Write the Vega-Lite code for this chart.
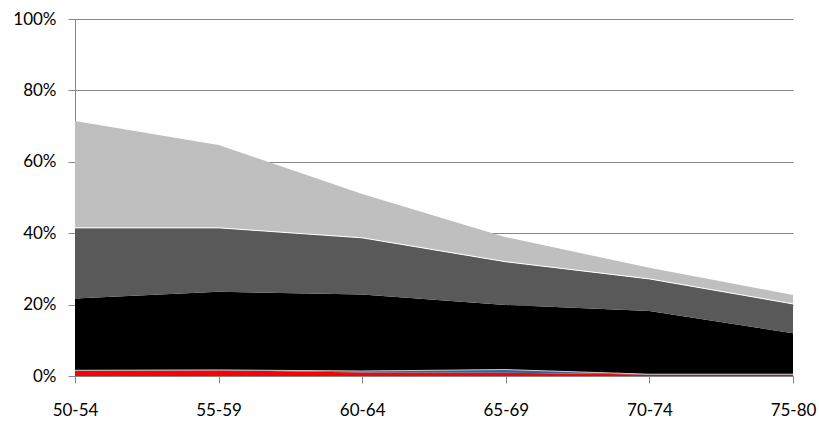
{
  "$schema": "https://vega.github.io/schema/vega-lite/v6.json",
  "width": 718,
  "height": 357,
  "autosize": {"type": "none"},
  "padding": {"left": 75, "top": 19, "right": 26, "bottom": 48},
  "background": "white",
  "config": {"view": {"stroke": null}, "font": "Lato"},
  "data": {"values": [
    {"age": "50-54", "series": "S1", "v": 0.015},
    {"age": "55-59", "series": "S1", "v": 0.016},
    {"age": "60-64", "series": "S1", "v": 0.010},
    {"age": "65-69", "series": "S1", "v": 0.009},
    {"age": "70-74", "series": "S1", "v": 0.004},
    {"age": "75-80", "series": "S1", "v": 0.004},
    {"age": "50-54", "series": "S2", "v": 0.001},
    {"age": "55-59", "series": "S2", "v": 0.001},
    {"age": "60-64", "series": "S2", "v": 0.004},
    {"age": "65-69", "series": "S2", "v": 0.009},
    {"age": "70-74", "series": "S2", "v": 0.001},
    {"age": "75-80", "series": "S2", "v": 0.001},
    {"age": "50-54", "series": "S3", "v": 0.201},
    {"age": "55-59", "series": "S3", "v": 0.219},
    {"age": "60-64", "series": "S3", "v": 0.214},
    {"age": "65-69", "series": "S3", "v": 0.181},
    {"age": "70-74", "series": "S3", "v": 0.177},
    {"age": "75-80", "series": "S3", "v": 0.115},
    {"age": "50-54", "series": "S4", "v": 0.198},
    {"age": "55-59", "series": "S4", "v": 0.179},
    {"age": "60-64", "series": "S4", "v": 0.159},
    {"age": "65-69", "series": "S4", "v": 0.121},
    {"age": "70-74", "series": "S4", "v": 0.090},
    {"age": "75-80", "series": "S4", "v": 0.082},
    {"age": "50-54", "series": "S5", "v": 0.299},
    {"age": "55-59", "series": "S5", "v": 0.232},
    {"age": "60-64", "series": "S5", "v": 0.123},
    {"age": "65-69", "series": "S5", "v": 0.069},
    {"age": "70-74", "series": "S5", "v": 0.031},
    {"age": "75-80", "series": "S5", "v": 0.025}
  ]},
  "transform": [
    {"stack": "v", "groupby": ["age"], "sort": [{"field": "series", "order": "ascending"}], "as": ["y0", "y1"]}
  ],
  "encoding": {
    "x": {
      "field": "age", "type": "ordinal", "title": null,
      "scale": {"type": "point", "padding": 0},
      "axis": {
        "labelAngle": 0, "labelFontSize": 17, "labelColor": "#000000",
        "domainColor": "#868686", "tickColor": "#868686", "tickSize": 7,
        "labelPadding": 19, "grid": false
      }
    }
  },
  "layer": [
    {
      "mark": {"type": "area", "interpolate": "linear"},
      "encoding": {
        "y": {
          "field": "y1", "type": "quantitative", "title": null,
          "scale": {"domain": [0, 1], "nice": false},
          "axis": {
            "format": "%", "values": [0, 0.2, 0.4, 0.6, 0.8, 1],
            "labelFontSize": 17, "labelColor": "#000000",
            "domainColor": "#868686", "tickColor": "#868686", "tickSize": 7,
            "labelPadding": 12, "gridColor": "#868686", "gridWidth": 1
          }
        },
        "y2": {"field": "y0"},
        "color": {
          "field": "series", "type": "nominal", "legend": null,
          "scale": {"domain": ["S1", "S2", "S3", "S4", "S5"],
                    "range": ["#FF0000", "#3A5F94", "#000000", "#595959", "#BFBFBF"]}
        }
      }
    },
    {
      "transform": [{"filter": "datum.series == 'S2'"}],
      "mark": {"type": "line", "interpolate": "linear", "color": "#C8C8C8", "strokeWidth": 1},
      "encoding": {"y": {"field": "y1", "type": "quantitative"}}
    },
    {
      "transform": [{"filter": "datum.series == 'S4'"}],
      "mark": {"type": "line", "interpolate": "linear", "color": "#FFFFFF", "strokeWidth": 1},
      "encoding": {"y": {"field": "y1", "type": "quantitative"}}
    }
  ]
}
